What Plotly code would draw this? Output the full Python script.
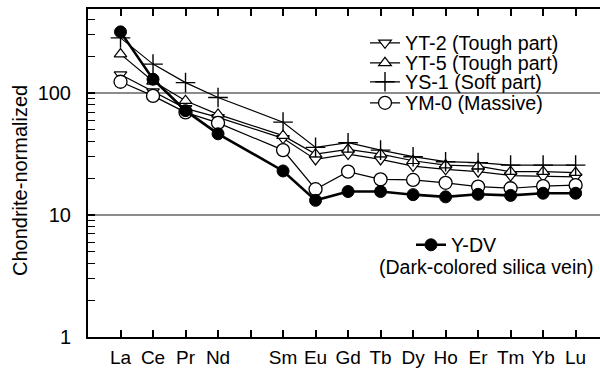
import plotly.graph_objects as go

elements = ["La", "Ce", "Pr", "Nd", "Pm", "Sm", "Eu", "Gd", "Tb", "Dy", "Ho", "Er", "Tm", "Yb", "Lu"]
positions = list(range(1, 16))
tick_labels = ["La", "Ce", "Pr", "Nd", "", "Sm", "Eu", "Gd", "Tb", "Dy", "Ho", "Er", "Tm", "Yb", "Lu"]

# values (None for Pm, not measured)
yt2 = [142, 103, 75, 63.2, None, 42.6, 28.6, 31.6, 28.6, 25.2, 23.7, 22.7, 21.1, 20.9, 20.6]
yt5 = [209, 125, 86.7, 66.9, None, 44.8, 31.6, 34.6, 31.6, 27.9, 25.7, 25.2, 22.7, 22.7, 22.3]
ys1 = [284, 173, 122, 92, None, 57.8, 35.9, 39.2, 34.1, 30.1, 27.4, 26.9, 25.7, 25.7, 25.7]
ym0 = [124, 94.9, 69.5, 57, None, 34.1, 16.3, 22.7, 19.6, 19.4, 18.4, 17.1, 16.6, 17.3, 17.6]
ydv = [318, 130, 71.8, 46.4, None, 23, 13.2, 15.6, 15.6, 14.7, 14.1, 14.8, 14.5, 15.1, 15.1]

FONT = "Liberation Sans, Arial, sans-serif"

fig = go.Figure()

def add(name, vals, symbol, size, color, lw, mlw, legend):
    fig.add_trace(go.Scatter(
        x=positions, y=vals, name=name, mode="lines+markers", connectgaps=True,
        line=dict(color="black", width=lw),
        marker=dict(symbol=symbol, size=size, color=color,
                    line=dict(color="black", width=mlw)),
        legend=legend, showlegend=True,
    ))

add("YT-2 (Tough part)", yt2, "triangle-down", 11, "white", 1.2, 1.2, "legend")
add("YT-5 (Tough part)", yt5, "triangle-up", 11, "white", 1.2, 1.2, "legend2")
add("YS-1 (Soft part)", ys1, "cross-thin", 14, "black", 1.2, 1.4, "legend3")
add("YM-0 (Massive)", ym0, "circle", 13, "white", 1.2, 1.3, "legend4")
add("Y-DV", ydv, "circle", 12, "black", 2.6, 1, "legend5")

def py(p):
    return (337 - p) / 328

def leg(p, xpx=365):
    return dict(x=(xpx - 88) / 512, y=py(p), xanchor="left", yanchor="middle",
                bgcolor="rgba(0,0,0,0)", borderwidth=0,
                font=dict(family=FONT, size=19.7, color="black"))

minor_vals = [2, 3, 4, 5, 6, 7, 8, 9, 20, 30, 40, 50, 60, 70, 80, 90, 200, 300, 400]

fig.update_layout(
    width=600, height=368,
    margin=dict(l=88, r=0, t=9, b=31),
    paper_bgcolor="white", plot_bgcolor="white",
    showlegend=True,
    font=dict(family=FONT, size=19, color="black"),
    legend=leg(43), legend2=leg(63), legend3=leg(82), legend4=leg(103),
    legend5=leg(245, xpx=411),
    xaxis=dict(
        range=[0, 15.75], tickmode="array", tickvals=positions, ticktext=tick_labels,
        ticks="inside", ticklen=7, tickwidth=1.5, tickcolor="black",
        showline=True, linewidth=2, linecolor="black", mirror="ticks",
        showgrid=False, zeroline=False, tickfont=dict(size=19), ticklabelstandoff=2,
    ),
    yaxis=dict(
        type="log", range=[0, 2.69], tickmode="array", tickvals=[1, 10, 100],
        ticktext=["1", "10", "100"],
        ticks="inside", ticklen=7, tickwidth=1.5, tickcolor="black",
        showline=True, linewidth=2, linecolor="black", mirror=False,
        showgrid=True, gridcolor="#8c8c8c", gridwidth=1.5, zeroline=False,
        tickfont=dict(size=20), ticklabelstandoff=11,
        minor=dict(tickmode="array", tickvals=minor_vals, ticks="inside", ticklen=7,
                   tickwidth=1.2, tickcolor="black", showgrid=False),
    ),
    annotations=[
        dict(text="Chondrite-normalized", textangle=-90, xref="paper", yref="paper",
             x=(20 - 88) / 512, y=py(181), xanchor="center", yanchor="middle", showarrow=False,
             font=dict(family=FONT, size=20, color="black")),
        dict(text="(Dark-colored silica vein)", xref="paper", yref="paper",
             x=(596 - 88) / 512, y=py(267), xanchor="right", yanchor="middle",
             showarrow=False, font=dict(family=FONT, size=19.5, color="black")),
    ],
)

fig.write_html("out.html", config={"displayModeBar": False},
               post_script="document.body.style.margin='0';document.body.style.overflow='hidden';")
